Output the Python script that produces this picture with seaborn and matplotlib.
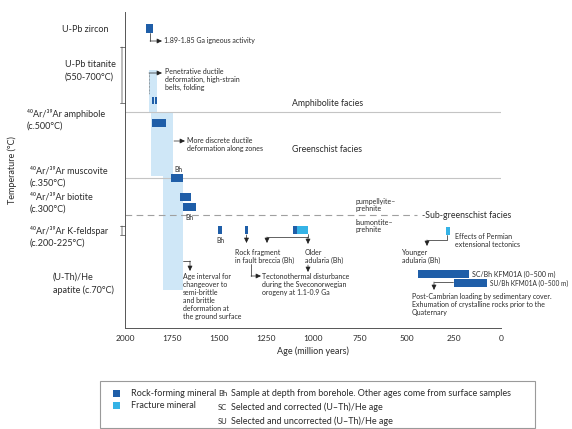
import matplotlib
matplotlib.use("Agg")
import matplotlib.pyplot as plt
from matplotlib.lines import Line2D
from matplotlib.patches import Rectangle
import pandas as pd
import seaborn as sns

# ---- data: ages in Ma, levels = position on the temperature scale (0 = top of axis) ----
rock_old = [1890, 1856, 1840, 1856, 1755, 1707, 1691, 1504, 1360, 1109, 443, 251]
rock_young = [1850, 1845, 1829, 1781, 1691, 1648, 1621, 1483, 1348, 1083, 171, 75]
rock_top = [12, 85, 85, 107, 162, 181, 191, 214, 214, 214, 258, 267]
rock_bot = [21, 92, 92, 115, 170, 189, 199, 222, 222, 222, 266, 275]

frac_old = [1083, 293]
frac_young = [1024, 272]
frac_top = [214, 215]
frac_bot = [222, 223]

# changeover interval (light band)
band_old = [1870, 1860, 1800]
band_young = [1830, 1745, 1690]
band_top = [58, 100, 164]
band_bot = [100, 164, 278]

tick_levels = [17, 110, 166, 185, 270]
age_ticks = [2000, 1750, 1500, 1250, 1000, 750, 500, 250, 0]

rock = pd.DataFrame({"old": rock_old, "young": rock_young, "top": rock_top, "bot": rock_bot})
frac = pd.DataFrame({"old": frac_old, "young": frac_young, "top": frac_top, "bot": frac_bot})
band = pd.DataFrame({"old": band_old, "young": band_young, "top": band_top, "bot": band_bot})

DARK = "#1f5ea8"
LIGHT = "#35b3e6"
BAND = "#cfe7f7"
GRID = "#c4c4c4"
TXT = "#2b2b2b"

sns.set_theme(style="white")
plt.rcParams["font.family"] = ["Lato", "DejaVu Sans"]

W, H = 572, 429
fig = plt.figure(figsize=(W / 100, H / 100), dpi=100)
ax = fig.add_axes([125 / W, 1 - 328 / H, 376 / W, 316 / H])


def P(x, y):
    return (x / W, 1 - y / H)


def draw_boxes(df, color, z):
    ax.barh((df["top"] + df["bot"]) / 2, df["old"] - df["young"], left=df["young"],
            height=df["bot"] - df["top"], color=color, edgecolor="none", zorder=z)


draw_boxes(band, BAND, 1)
draw_boxes(rock, DARK, 3)
draw_boxes(frac, LIGHT, 3)

ax.set_xlim(2000, 0)
ax.set_ylim(316, 0)

# facies boundaries
ax.plot([2000, 0], [100, 100], color=GRID, lw=0.8, zorder=2)
ax.plot([2000, 0], [166, 166], color=GRID, lw=0.8, zorder=2)
ax.plot([2000, 447], [203, 203], color="#a0a0a0", lw=0.8, ls=(0, (6, 4)), zorder=2)

ax.set_xticks(age_ticks)
ax.set_xticklabels([str(a) for a in age_ticks], fontsize=6, color=TXT)
ax.set_yticks(tick_levels)
ax.set_yticklabels([])
ax.tick_params(axis="x", direction="in", length=3, width=0.6, pad=5, colors="#444")
ax.tick_params(axis="y", direction="inout", length=6, width=0.6, colors="#444")
ax.tick_params(axis="x", labelcolor=TXT)
for s in ["top", "right"]:
    ax.spines[s].set_visible(False)
for s in ["left", "bottom"]:
    ax.spines[s].set_color("#555555")
    ax.spines[s].set_linewidth(0.7)
ax.set_xlabel("Age (million years)", fontsize=6.5, color=TXT, labelpad=3)

# range brackets on the temperature axis
for y0, y1 in [(35, 91), (214, 223)]:
    ax.annotate("", xy=P(122, y0 + 12), xytext=P(122, y1 + 12), xycoords="figure fraction",
                textcoords="figure fraction",
                arrowprops=dict(arrowstyle="|-|,widthA=0.15,widthB=0.15", lw=0.5, color="#444",
                                shrinkA=0, shrinkB=0))

# mineral labels
lab = dict(fontsize=6.5, color=TXT, va="center", linespacing=1.45)
fig.text(*P(109, 29), "U-Pb zircon", ha="right", **lab)
fig.text(*P(65, 71), "U-Pb titanite\n(550-700°C)", ha="left", **lab)
fig.text(*P(27, 120), "⁴⁰Ar/³⁹Ar amphibole\n(c.500°C)", ha="left", **lab)
fig.text(*P(30, 177), "⁴⁰Ar/³⁹Ar muscovite\n(c.350°C)", ha="left", **lab)
fig.text(*P(30, 203), "⁴⁰Ar/³⁹Ar biotite\n(c.300°C)", ha="left", **lab)
fig.text(*P(30, 237), "⁴⁰Ar/³⁹Ar K-feldspar\n(c.200-225°C)", ha="left", **lab)
fig.text(*P(53, 284), "(U-Th)/He\napatite (c.70°C)", ha="left", **lab)
fig.text(*P(12, 170), "Temperature (°C)", rotation=90, ha="center", va="center",
         fontsize=6.5, color=TXT)

# facies names
fac = dict(fontsize=6.3, color=TXT, va="center")
fig.text(*P(292, 103), "Amphibolite facies", **fac)
fig.text(*P(292, 150), "Greenschist facies", **fac)
fig.text(*P(422, 215), "-Sub-greenschist facies", **fac)
small = dict(fontsize=5, color=TXT, linespacing=1.15)
fig.text(*P(355, 205), "pumpellyite–\nprehnite", va="center", **small)
fig.text(*P(355, 226), "laumontite–\nprehnite", va="center", **small)

# annotations
notes = [
    (164, 41, "center", "1.89-1.85 Ga igneous activity"),
    (165, 68, "top", "Penetrative ductile\ndeformation, high-strain\nbelts, folding"),
    (187, 137, "top", "More discrete ductile\ndeformation along zones"),
    (183, 273, "top", "Age interval for\nchangeover to\nsemi-brittle\nand brittle\ndeformation at\nthe ground surface"),
    (235, 249, "top", "Rock fragment\nin fault breccia (Bh)"),
    (305, 249, "top", "Older\nadularia (Bh)"),
    (262, 273, "top", "Tectonothermal disturbance\nduring the Sveconorwegian\norogeny at 1.1-0.9 Ga"),
    (455, 233, "top", "Effects of Permian\nextensional tectonics"),
    (402, 249, "top", "Younger\nadularia (Bh)"),
    (472, 274, "center", "SC/Bh KFM01A (0–500 m)"),
    (412, 293, "top", "Post-Cambrian loading by sedimentary cover.\nExhumation of crystalline rocks prior to the\nQuaternary"),
]
for x, y, va, s in notes:
    fig.text(*P(x, y), s, va=va, ha="left", **small)
fig.text(*P(490, 283), "SU/Bh KFM01A (0–500 m)", va="center", ha="left",
         fontsize=4.7, color=TXT)
for x, y in [(178, 169), (189, 217), (220, 240)]:
    fig.text(*P(x, y), "Bh", fontsize=4.8, color=TXT, ha="center", va="center")

connectors = [
    [(150, 33), (150, 41), (162, 41)],
    [(149, 73), (162, 73)],
    [(174, 141), (185, 141)],
    [(183, 261), (190, 261), (190, 271)],
    [(246.5, 235), (246.5, 243)],
    [(308, 234), (308, 237), (267, 237), (267, 243)],
    [(308, 237), (308, 244)],
    [(251, 264), (251, 276), (261, 276)],
    [(308, 265), (308, 272)],
    [(447, 235), (447, 240), (427, 240), (427, 246)],
    [(453, 282), (434, 282), (434, 290)],
]
for pts in connectors:
    if len(pts) > 2:
        xs = [P(*p)[0] for p in pts[:-1]]
        ys = [P(*p)[1] for p in pts[:-1]]
        fig.add_artist(Line2D(xs, ys, lw=0.5, color="#222"))
    ax.annotate("", xy=P(*pts[-1]), xytext=P(*pts[-2]), xycoords="figure fraction",
                textcoords="figure fraction",
                arrowprops=dict(arrowstyle="-|>,head_length=0.25,head_width=0.12", lw=0.5,
                                color="#222", shrinkA=0, shrinkB=0))
fig.add_artist(Line2D(*zip(P(149, 73), P(149, 94)), lw=0.5, color="#555", ls=(0, (1, 1))))

# legend panel
fig.add_artist(Rectangle(P(100, 428), 435 / W, 47 / H, transform=fig.transFigure,
                         facecolor="white", edgecolor="#9a9a9a", lw=0.8))
for y, c, s in [(393, DARK, "Rock-forming mineral"), (405, LIGHT, "Fracture mineral")]:
    fig.add_artist(Rectangle(P(113, y + 3.5), 7 / W, 7 / H, transform=fig.transFigure,
                             facecolor=c, edgecolor="none"))
    fig.text(*P(131, y), s, fontsize=6.5, color=TXT, va="center")
for y, k, s in [(393, "Bh", "Sample at depth from borehole. Other ages come from surface samples"),
                (407, "SC", "Selected and corrected (U–Th)/He age"),
                (421, "SU", "Selected and uncorrected (U–Th)/He age")]:
    fig.text(*P(218, y), k, fontsize=5.5, color=TXT, va="center")
    fig.text(*P(231, y), s, fontsize=6.5, color=TXT, va="center")

fig.savefig("out.png", dpi=100)
